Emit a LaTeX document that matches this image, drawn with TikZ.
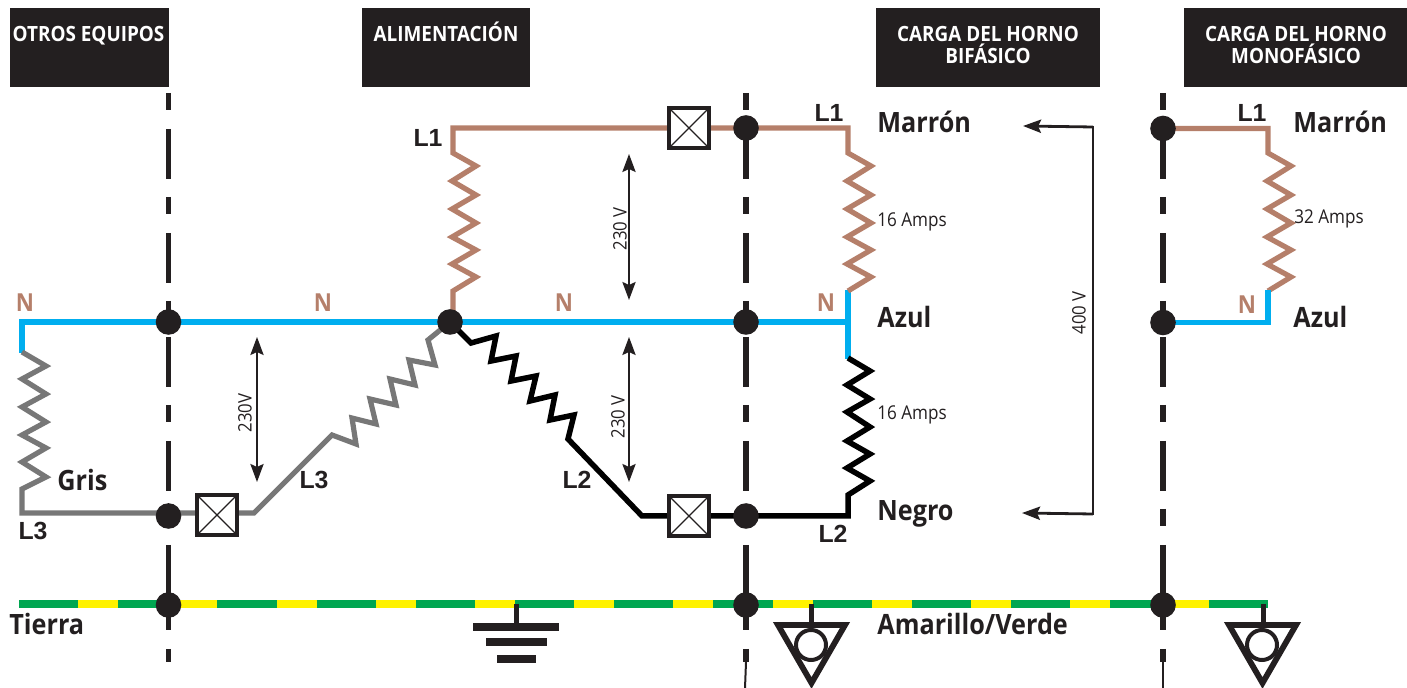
\documentclass[tikz,border=0pt]{standalone}
\usepackage{fontspec}
\setmainfont[FakeStretch=0.9]{Open Sans}
\newfontfamily\arialb[BoldFont={Liberation Sans Bold}]{Liberation Sans}
\usetikzlibrary{arrows.meta,backgrounds}
\definecolor{ink}{HTML}{231F20}
\definecolor{brownw}{HTML}{B57F6A}
\definecolor{bluew}{HTML}{00AEEF}
\definecolor{greyw}{HTML}{777777}
\definecolor{greenw}{HTML}{00A651}
\definecolor{yelloww}{HTML}{FFF200}
\tikzset{
  x=0.5pt,y=-0.5pt,
  wire/.style={line width=2.6pt,miter limit=10},
  brownwire/.style={wire,draw=brownw},
  bluewire/.style={wire,draw=bluew,line width=2.9pt},
  greywire/.style={wire,draw=greyw},
  blackwire/.style={wire,draw=black,line width=2.75pt},
  dot/.style={circle,fill=ink,inner sep=0pt,minimum size=12.8pt},
  breaker/.style={draw=ink,fill=white,line width=2pt,minimum size=20pt,inner sep=0pt,
    path picture={\draw[ink,line width=0.6pt]
      (path picture bounding box.north west)--(path picture bounding box.south east)
      (path picture bounding box.north east)--(path picture bounding box.south west);}},
  header/.style={fill=ink,inner sep=0pt,anchor=north west},
  headtext/.style={text=white,font=\fontsize{10.5}{11}\selectfont\bfseries,anchor=base,inner sep=0pt},
  colourtext/.style={text=ink,font=\fontsize{14}{15}\selectfont\bfseries,anchor=base west,inner sep=0pt},
  ltext/.style={text=ink,font=\arialb\fontsize{12.4}{13}\selectfont\bfseries,anchor=base,inner sep=0pt},
  ntext/.style={text=brownw,font=\fontsize{12.4}{13}\selectfont\bfseries,anchor=base,inner sep=0pt},
  smalltext/.style={text=ink,font=\fontsize{9.5}{10}\selectfont,anchor=base west,inner sep=0pt},
  volttext/.style={text=ink,font=\fontsize{9.3}{10}\selectfont,anchor=center,inner sep=0pt,rotate=90},
  phase/.style={draw=ink,line width=2.75pt,dash pattern=on 8.5pt off 9.5pt on 25pt off 9pt},
  thinend/.style={draw=ink,line width=1pt},
  dim/.style={draw=ink,line width=1pt,{Stealth[length=9pt,width=6.6pt,inset=1.5pt]}-{Stealth[length=9pt,width=6.6pt,inset=1.5pt]}},
  dimline/.style={draw=ink,line width=1.4pt,-{Stealth[length=9pt,width=6.6pt,inset=1.5pt]}},
  gndstem/.style={draw=ink,line width=2.5pt},
  gndbar/.style={draw=ink,line width=4pt},
  pe/.style={draw=ink,line width=2.9pt,miter limit=10},
  ring/.style={draw=ink,line width=2pt,fill=white,circle,inner sep=0pt,minimum size=15pt},
}
\begin{document}
\begin{tikzpicture}
\useasboundingbox (0,0) rectangle (1407,688);
% headers
\node[header,minimum width=79.5pt,minimum height=39.5pt] (h1) at (10,8) {};
\node[header,minimum width=84pt,minimum height=39.5pt] (h2) at (362,8) {};
\node[header,minimum width=112pt,minimum height=39.5pt] (h3) at (876,8) {};
\node[header,minimum width=111.5pt,minimum height=39.5pt] (h4) at (1184,8) {};
\node[headtext] (t1) at (88.5,42) {OTROS EQUIPOS};
\node[headtext] (t2) at (446,42) {ALIMENTACIÓN};
\node[headtext] (t3) at (988,42) {CARGA DEL HORNO};
\node[headtext] (t4) at (988,64) {BIFÁSICO};
\node[headtext] (t5) at (1296,42) {CARGA DEL HORNO};
\node[headtext] (t6) at (1296,64) {MONOFÁSICO};
% breakers
\node[breaker] (b1) at (689,128) {};
\node[breaker] (b2) at (217,515) {};
\node[breaker] (b3) at (689,516) {};
% dots
\node[dot] (d1) at (168.5,322) {};
\node[dot] (d2) at (168.5,516) {};
\node[dot] (d3) at (168.5,605) {};
\node[dot] (d4) at (450,322) {};
\node[dot] (d5) at (746,128) {};
\node[dot] (d6) at (746,322) {};
\node[dot] (d7) at (746,516) {};
\node[dot] (d8) at (746,605) {};
\node[dot] (d9) at (1163,128.5) {};
\node[dot] (d10) at (1163,322.5) {};
\node[dot] (d11) at (1163,605) {};
% named points
\coordinate (p1t) at (168.5,93); \coordinate (p1b) at (168.5,662);
\coordinate (p2t) at (746,93); \coordinate (p2b) at (746,662); \coordinate (p2e) at (745,688);
\coordinate (p3t) at (1163,93); \coordinate (p3b) at (1163,662); \coordinate (p3e) at (1163,688);
\coordinate (tl) at (19,604); \coordinate (tr) at (1268,604);
\coordinate (nl) at (22,322); \coordinate (nr) at (848,322);
\coordinate (nm) at (1268,322.5);
\coordinate (bl) at (453,128); \coordinate (bn) at (453,322);
\coordinate (br) at (848,128); \coordinate (bm) at (1268,128.5);
\coordinate (kr) at (848,516); \coordinate (kb) at (642,516);
\coordinate (gl) at (22,513); \coordinate (gb) at (254,513);
\begin{scope}[on background layer]
% phase lines
\draw[phase] (p1t)--(p1b);
\draw[phase] (p2t)--(p2b);
\draw[phase] (p3t)--(p3b);
\draw[thinend] (p2b)--(p2e);
\draw[thinend] (p3b)--(p3e);
% earth
\draw[draw=yelloww,line width=4pt] (tl)--(tr);
\draw[draw=greenw,line width=4pt,dash pattern=on 29.6pt off 20pt] (tl)--(tr);
% wires
\draw[bluewire] (22,353)--(nl)--(nr);
\draw[bluewire] (848,290)--(848,359);
\draw[brownwire] (bn)--(453,291)--(476,277)--(452,264)--(476,250)--(452,237)--(476,223)--(452,209)--(476,195)--(452,181)--(476,166)--(453,153)--(bl)--(br)--(848,153)--(871,166)--(847,181)--(871,195)--(847,209)--(871,223)--(847,237)--(871,250)--(847,264)--(871,277)--(848,291);
\draw[blackwire] (848,358)--(870,371)--(847,385)--(870,399)--(847,412)--(870,427)--(847,441)--(870,454)--(847,468)--(870,481)--(848,495)--(kr)--(kb)--(568,439)--(574,415)--(550,420)--(555,395)--(530,401)--(536,376)--(511,381)--(516,356)--(491,361)--(496,336)--(471,343)--(d4.center);
\draw[greywire] (22,352)--(46,366)--(22,379)--(46,394)--(22,407)--(46,422)--(22,435)--(46,448)--(22,462)--(46,477)--(22,489)--(gl)--(gb)--(332,435)--(356,444)--(352,418)--(376,424)--(370,399)--(396,405)--(390,379)--(415,385)--(409,360)--(435,365)--(428,340)--(d4.center);
\draw[brownwire] (d9.center)--(bm)--(1268,153)--(1291,166)--(1267,181)--(1291,195)--(1267,209)--(1291,223)--(1267,237)--(1291,250)--(1267,264)--(1291,277)--(1268,291);
\draw[bluewire] (1268,290)--(nm)--(d10.center);
\end{scope}
% voltage arrows
\coordinate (a1a) at (629,154); \coordinate (a1b) at (629,300);
\coordinate (a2a) at (629,337); \coordinate (a2b) at (629,482);
\coordinate (a3a) at (257,337); \coordinate (a3b) at (257,482);
\draw[dim] (a1a)--(a1b);
\draw[dim] (a2a)--(a2b);
\draw[dim] (a3a)--(a3b);
\coordinate (a4a) at (1023,126); \coordinate (a4c) at (1093,127); \coordinate (a4d) at (1093,514); \coordinate (a4b) at (1022,513);
\draw[dimline] (a4c)--(a4a);
\draw[dimline] (a4d)--(a4b);
\draw[draw=ink,line width=1.4pt,line cap=rect] (a4c)--(a4d);
\node[volttext] (v1) at (620,229) {230 V};
\node[volttext] (v2) at (618,417) {230 V};
\node[volttext] (v3) at (245,413) {230V};
\node[volttext] (v4) at (1079,313) {400 V};
% ground symbols
\coordinate (g0) at (516.5,604); \coordinate (g0b) at (516.5,625);
\draw[gndstem] (g0)--(g0b);
\draw[gndbar] (473,627)--(559,627);
\draw[gndbar] (486,642)--(547,642);
\draw[gndbar] (497,659)--(536,659);
\coordinate (g1) at (811,604); \coordinate (g1b) at (811,625);
\draw[gndstem] (g1)--(g1b);
\draw[pe] (778,625)--(845,625)--(811.5,683)--cycle;
\node[ring] (r1) at (811,645) {};
\coordinate (g2) at (1263,604); \coordinate (g2b) at (1263,625);
\draw[gndstem] (g2)--(g2b);
\draw[pe] (1229,625)--(1296,625)--(1262.5,683)--cycle;
\node[ring] (r2) at (1262,645) {};
% labels
\node[colourtext] (c1) at (877,132.5) {Marrón};
\node[colourtext] (c2) at (877,328) {Azul};
\node[colourtext] (c3) at (877,520.5) {Negro};
\node[colourtext] (c4) at (877,635) {Amarillo/Verde};
\node[colourtext] (c5) at (1293,132.5) {Marrón};
\node[colourtext] (c6) at (1293,328) {Azul};
\node[colourtext] (c7) at (9,635) {Tierra};
\node[colourtext] (c8) at (57,490.5) {Gris};
\node[ltext] (l1) at (428,147) {L1};
\node[ltext] (l2) at (829,122) {L1};
\node[ltext] (l3) at (1252,122) {L1};
\node[ltext] (l4) at (33,540) {L3};
\node[ltext] (l5) at (314,489) {L3};
\node[ltext] (l6) at (577,489) {L2};
\node[ltext] (l7) at (833,543) {L2};
\node[ntext] (n1) at (25,312) {N};
\node[ntext] (n2) at (323,312) {N};
\node[ntext] (n3) at (564,312) {N};
\node[ntext] (n4) at (826,312) {N};
\node[ntext] (n5) at (1247,314) {N};
\node[smalltext] (s1) at (877,227) {16 Amps};
\node[smalltext] (s2) at (877,420) {16 Amps};
\node[smalltext] (s3) at (1294,224) {32 Amps};
\end{tikzpicture}
\end{document}
